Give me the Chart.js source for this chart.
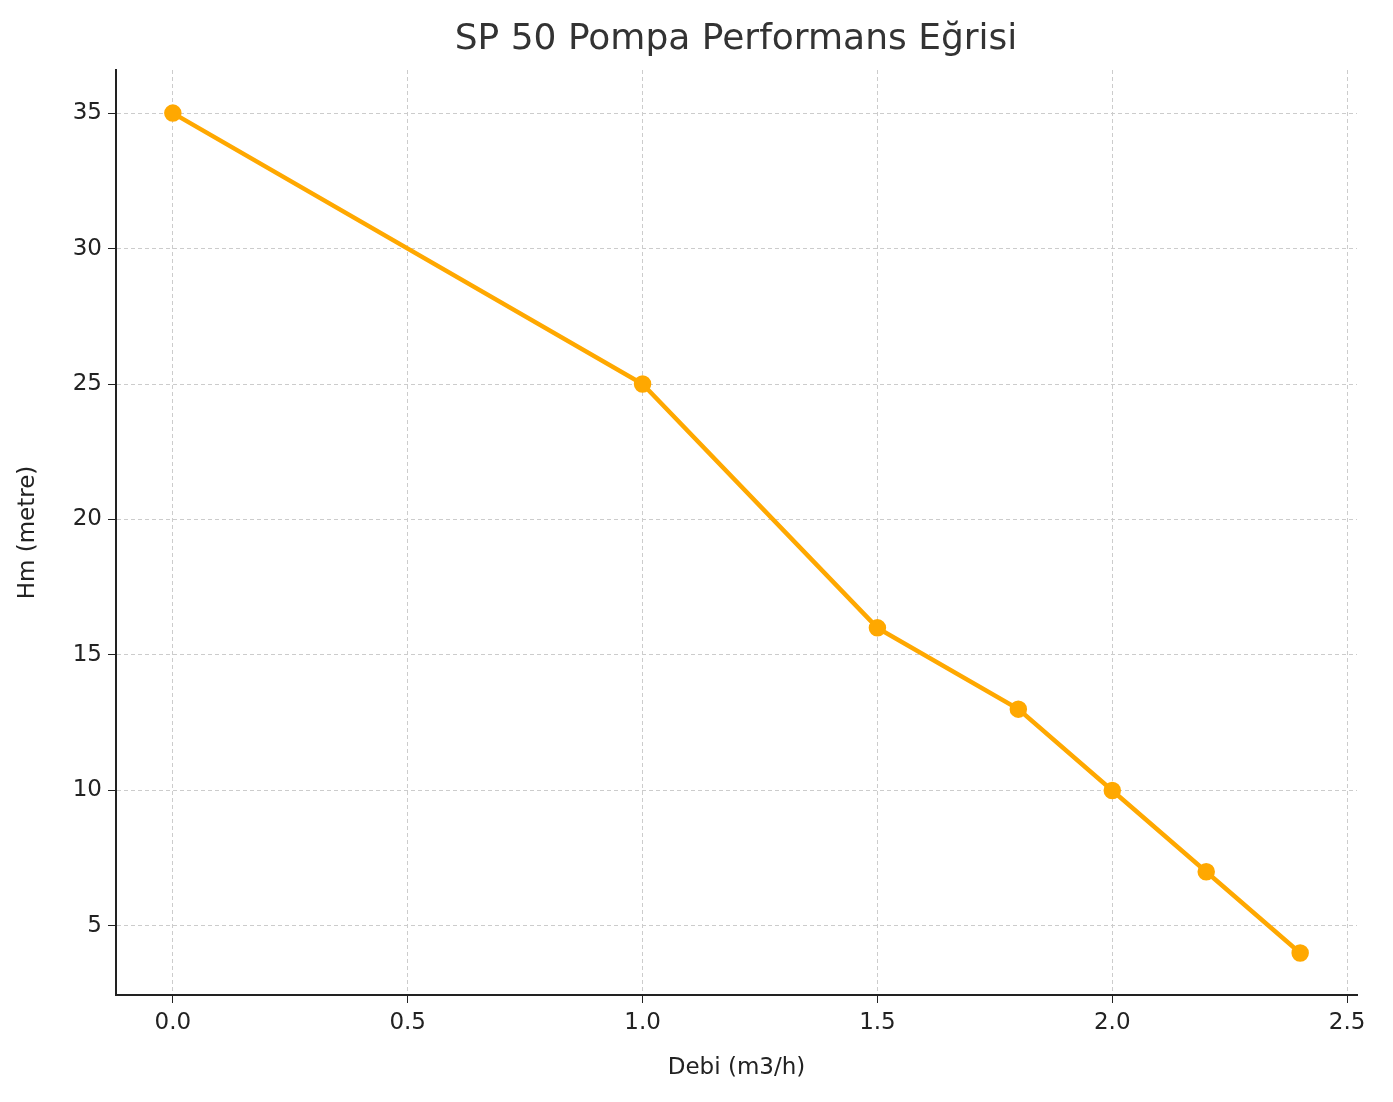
<!DOCTYPE html>
<html><head><meta charset="utf-8">
<script src="https://cdn.jsdelivr.net/npm/chart.js@4"></script>
<style>body{margin:0;background:#fff}</style></head>
<body><canvas id="c" width="1393" height="1102"></canvas>
<script>
const debi = [0, 1.0, 1.5, 1.8, 2.0, 2.2, 2.4];
const hm = [35, 25, 16, 13, 10, 7, 4];
const xTicks = [0, 0.5, 1.0, 1.5, 2.0, 2.5];
const yTicks = [5, 10, 15, 20, 25, 30, 35];
const title = 'SP 50 Pompa Performans Eğrisi';
const F = '"DejaVu Sans"';
const titlePlugin = {id:'t', afterDraw(c){const x=c.ctx;x.save();x.font='36px '+F;x.fillStyle='#333';x.textAlign='center';x.textBaseline='middle';x.fillText(title,736,40);x.restore();}};
new Chart(document.getElementById('c'), {
  type:'line',
  data:{datasets:[{data:debi.map((v,i)=>({x:v,y:hm[i]})),borderColor:'#FFA800',backgroundColor:'#FFA800',borderWidth:4.5,pointRadius:6.5,pointHoverRadius:6.5,tension:0}]},
  options:{responsive:false,animation:false,
    layout:{padding:{top:70,right:36,left:14,bottom:20}},
    plugins:{legend:{display:false},tooltip:{enabled:false}},
    scales:{
      x:{type:'linear',min:-0.121,max:2.521,
        afterBuildTicks(s){s.ticks=xTicks.map(v=>({value:v}));},
        afterFit(s){s.height=87;},
        ticks:{font:{family:F,size:23},color:'#222',padding:6,callback:v=>v.toFixed(1),maxRotation:0},
        grid:{color:'#ccc',tickColor:'#222',tickLength:8,lineWidth:1},
        border:{color:'#222',width:2,dash:[4,3]},
        title:{display:true,text:'Debi (m3/h)',font:{family:F,size:23},color:'#222',padding:{top:4,bottom:0}}},
      y:{type:'linear',min:2.45,max:36.59,
        afterBuildTicks(s){s.ticks=yTicks.map(v=>({value:v}));},
        afterFit(s){s.width=102;},
        ticks:{font:{family:F,size:23},color:'#222',padding:6},
        grid:{color:'#ccc',tickColor:'#222',tickLength:8,lineWidth:1},
        border:{color:'#222',width:2,dash:[4,3]},
        title:{display:true,text:'Hm (metre)',font:{family:F,size:23},color:'#222',padding:{top:0,bottom:4}}}
    }},
  plugins:[titlePlugin]
});
</script></body></html>
